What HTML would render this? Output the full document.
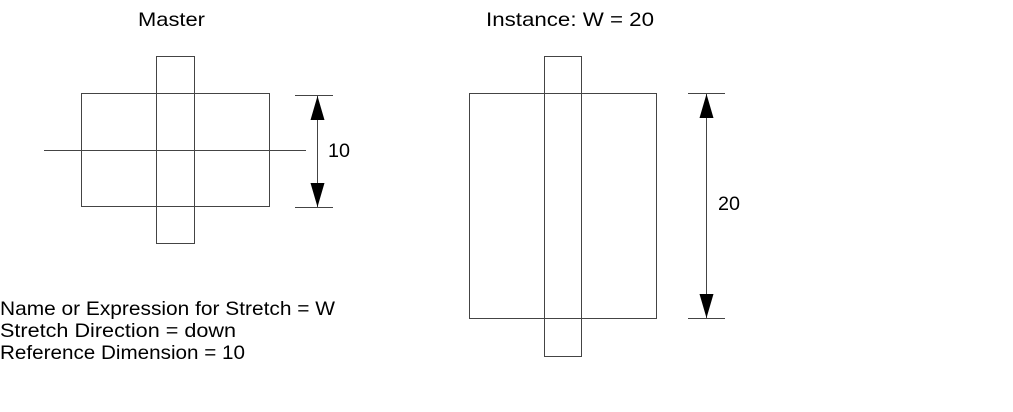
<!DOCTYPE html>
<html><head><style>
body{margin:0;background:#fff;width:1013px;height:407px;overflow:hidden}
svg text{font-family:"Liberation Sans",sans-serif;font-size:19.5px;fill:#000}
</style></head><body>
<svg width="1013" height="407" viewBox="0 0 1013 407" xmlns="http://www.w3.org/2000/svg">
<g fill="none" stroke="#444" stroke-width="1">
<rect x="81.5" y="93.5" width="188" height="113"/>
<rect x="156.5" y="56.5" width="38" height="187"/>
<line x1="44" y1="150.5" x2="306" y2="150.5"/>
<line x1="295" y1="95.5" x2="333" y2="95.5"/>
<line x1="295" y1="207.5" x2="333" y2="207.5"/>
<line x1="317.5" y1="95" x2="317.5" y2="207"/>
<rect x="469.5" y="93.5" width="187" height="225"/>
<rect x="544.5" y="56.5" width="37" height="300"/>
<line x1="688" y1="93.5" x2="725" y2="93.5"/>
<line x1="688" y1="318.5" x2="725" y2="318.5"/>
<line x1="706.5" y1="93" x2="706.5" y2="318"/>
</g>
<g fill="#000">
<polygon points="317.5,96 310.5,120 324.5,120"/>
<polygon points="317.5,207 310.5,183 324.5,183"/>
<polygon points="706.5,94 699.5,118 713.5,118"/>
<polygon points="706.5,318 699.5,294 713.5,294"/>
</g>
<text x="138" y="26" textLength="67" lengthAdjust="spacingAndGlyphs">Master</text>
<text x="486" y="26" textLength="168" lengthAdjust="spacingAndGlyphs">Instance: W = 20</text>
<text x="328" y="157" textLength="22" lengthAdjust="spacingAndGlyphs">10</text>
<text x="718" y="210" textLength="22" lengthAdjust="spacingAndGlyphs">20</text>
<text x="0" y="315" textLength="335" lengthAdjust="spacingAndGlyphs">Name or Expression for Stretch = W</text>
<text x="0" y="337" textLength="236" lengthAdjust="spacingAndGlyphs">Stretch Direction = down</text>
<text x="0" y="359" textLength="245" lengthAdjust="spacingAndGlyphs">Reference Dimension = 10</text>
</svg>
</body></html>
